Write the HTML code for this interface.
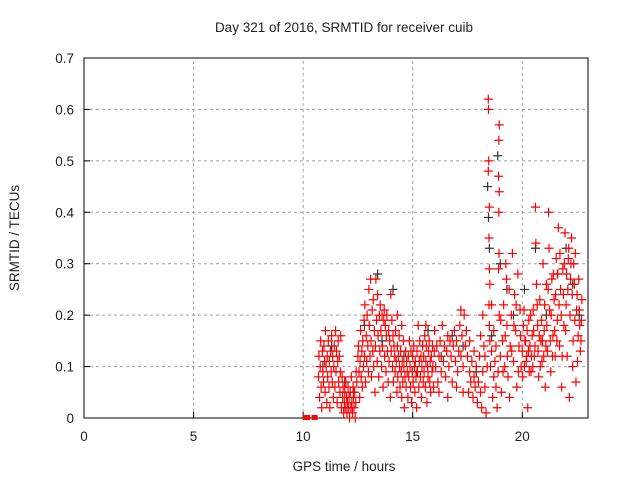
<!DOCTYPE html>
<html><head><meta charset="utf-8"><style>
body{margin:0;background:#fff}
svg text{font-family:"Liberation Sans",sans-serif;font-size:13.5px;fill:#222}
</style></head><body>
<svg id="c" width="640" height="480" xmlns="http://www.w3.org/2000/svg"></svg>
<script>
const xTicks=[0,5,10,15,20];
const yTicks=[0,0.1,0.2,0.3,0.4,0.5,0.6,0.7];
const yTickLabels=["0","0.1","0.2","0.3","0.4","0.5","0.6","0.7"];
const zeroSeries=[[10.1,0],[10.2,0],[10.5,0],[10.55,0]];
const redSeries=[
[10.7,0.08],[10.72,0.12],[10.75,0.04],[10.78,0.1],[10.8,0.15],[10.82,0.06],[10.85,0.02],[10.88,0.13],[10.9,0.09],[10.93,0.07],[10.95,0.14],[10.98,0.11],
[11.0,0.05],[11.02,0.17],[11.05,0.1],[11.08,0.03],[11.1,0.12],[11.12,0.08],[11.15,0.15],[11.18,0.06],[11.2,0.11],[11.22,0.02],[11.25,0.13],[11.28,0.09],[11.3,0.16],[11.33,0.07],[11.35,0.12],[11.38,0.04],[11.4,0.1],[11.42,0.14],[11.45,0.06],[11.48,0.17],[11.5,0.09],
[11.52,0.13],[11.55,0.03],[11.58,0.11],[11.6,0.15],[11.62,0.07],[11.65,0.12],[11.68,0.05],[11.7,0.09],[11.72,0.16],[11.75,0.02],[11.78,0.08],[11.8,0.04],[11.82,0.06],[11.85,0.01],[11.88,0.03],[11.9,0.05],[11.92,0.02],[11.95,0.07],[11.98,0.04],
[12.0,0.01],[12.02,0.03],[12.05,0.06],[12.08,0.02],[12.1,0.04],[12.12,0.0],[12.15,0.05],[12.18,0.02],[12.2,0.08],[12.22,0.03],[12.25,0.01],[12.28,0.06],[12.3,0.04],[12.32,0.02],[12.35,0.05],[12.38,0.0],[12.4,0.03],[12.42,0.09],[12.45,0.07],
[12.5,0.12],[12.52,0.14],[12.55,0.09],[12.58,0.04],[12.6,0.11],[12.62,0.17],[12.65,0.08],[12.68,0.13],[12.7,0.06],[12.72,0.15],[12.75,0.1],[12.78,0.19],[12.8,0.12],[12.82,0.22],[12.85,0.07],[12.88,0.16],[12.9,0.11],[12.92,0.2],[12.95,0.14],[12.98,0.09],
[13.0,0.25],[13.02,0.18],[13.05,0.12],[13.08,0.27],[13.1,0.15],[13.12,0.08],[13.15,0.21],[13.18,0.13],[13.2,0.23],[13.22,0.1],[13.25,0.17],[13.28,0.05],[13.3,0.14],[13.32,0.27],[13.35,0.19],[13.38,0.11],[13.4,0.24],[13.42,0.16],[13.45,0.08],[13.48,0.2],
[13.5,0.13],[13.52,0.22],[13.55,0.17],[13.58,0.1],[13.6,0.2],[13.62,0.14],[13.65,0.06],[13.68,0.19],[13.7,0.21],[13.72,0.12],[13.75,0.18],[13.78,0.09],[13.8,0.16],[13.82,0.2],[13.85,0.13],[13.88,0.07],[13.9,0.17],[13.92,0.11],[13.95,0.15],[13.98,0.04],
[14.0,0.24],[14.02,0.13],[14.05,0.19],[14.08,0.1],[14.1,0.16],[14.12,0.07],[14.15,0.14],[14.18,0.12],[14.2,0.09],[14.22,0.17],[14.25,0.11],[14.28,0.05],[14.3,0.14],[14.32,0.08],[14.35,0.12],[14.38,0.16],[14.4,0.1],[14.42,0.06],[14.45,0.13],[14.48,0.09],
[14.5,0.04],[14.52,0.11],[14.55,0.07],[14.58,0.15],[14.6,0.1],[14.62,0.02],[14.65,0.08],[14.68,0.13],[14.7,0.06],[14.72,0.11],[14.75,0.09],[14.78,0.04],[14.8,0.12],[14.82,0.08],[14.85,0.15],[14.88,0.1],[14.9,0.06],[14.92,0.13],[14.95,0.03],[14.98,0.09],
[15.0,0.12],[15.02,0.07],[15.05,0.14],[15.08,0.1],[15.1,0.05],[15.12,0.11],[15.15,0.08],[15.18,0.02],[15.2,0.13],[15.22,0.09],[15.25,0.18],[15.28,0.06],[15.3,0.11],[15.32,0.15],[15.35,0.08],[15.38,0.12],[15.4,0.04],[15.42,0.1],[15.45,0.14],[15.48,0.07],
[15.5,0.12],[15.52,0.09],[15.55,0.16],[15.58,0.06],[15.6,0.11],[15.62,0.14],[15.65,0.03],[15.68,0.1],[15.7,0.08],[15.72,0.13],[15.75,0.15],[15.78,0.07],[15.8,0.11],[15.82,0.05],[15.85,0.12],[15.88,0.09],[15.9,0.14],[15.92,0.1],[15.95,0.06],[15.98,0.13],
[16.0,0.17],[16.05,0.1],[16.1,0.14],[16.15,0.07],[16.2,0.12],[16.25,0.15],[16.3,0.09],[16.35,0.18],[16.4,0.11],[16.45,0.14],[16.5,0.08],[16.55,0.13],[16.6,0.16],[16.65,0.1],[16.7,0.15],[16.75,0.12],[16.8,0.07],[16.85,0.14],[16.9,0.17],[16.95,0.11],
[17.0,0.15],[17.05,0.09],[17.1,0.13],[17.15,0.18],[17.2,0.12],[17.25,0.16],[17.3,0.1],[17.35,0.2],[17.4,0.14],[17.45,0.17],[17.5,0.12],[17.55,0.05],[17.6,0.09],[17.65,0.07],[17.7,0.11],[17.75,0.04],[17.8,0.08],[17.85,0.06],[17.9,0.1],[17.95,0.03],
[18.0,0.07],[18.05,0.12],[18.1,0.05],[18.15,0.02],[18.2,0.09],[18.25,0.14],[18.3,0.06],[18.35,0.01],[18.4,0.1],[18.45,0.62],[18.46,0.6],[18.47,0.5],[18.45,0.48],[18.5,0.41],[18.48,0.35],[18.5,0.29],[18.52,0.26],[18.48,0.22],[18.5,0.18],[18.52,0.15],
[18.55,0.1],[18.6,0.13],[18.65,0.04],[18.7,0.08],[18.75,0.11],[18.8,0.06],[18.85,0.02],[18.9,0.09],[18.95,0.57],[18.93,0.54],[18.92,0.47],[18.95,0.44],[18.93,0.4],[18.94,0.32],[18.92,0.29],[18.95,0.2],
[19.0,0.12],[19.05,0.05],[19.1,0.15],[19.15,0.22],[19.2,0.1],[19.25,0.3],[19.28,0.27],[19.3,0.18],[19.35,0.08],[19.4,0.25],[19.45,0.14],[19.5,0.2],[19.55,0.32],[19.6,0.11],[19.65,0.24],[19.7,0.17],[19.75,0.06],[19.8,0.28],[19.85,0.14],[19.9,0.21],[19.95,0.1],
[20.0,0.13],[20.05,0.18],[20.1,0.1],[20.15,0.15],[20.2,0.12],[20.25,0.02],[20.3,0.19],[20.35,0.14],[20.4,0.09],[20.45,0.16],[20.5,0.21],[20.55,0.12],[20.6,0.41],[20.62,0.34],[20.65,0.26],[20.7,0.18],[20.75,0.08],[20.8,0.23],[20.85,0.15],[20.9,0.11],[20.95,0.3],
[21.0,0.17],[21.05,0.06],[21.1,0.26],[21.15,0.13],[21.2,0.4],[21.22,0.33],[21.25,0.21],[21.3,0.09],[21.35,0.27],[21.4,0.16],[21.45,0.23],[21.5,0.12],[21.55,0.31],[21.6,0.19],[21.65,0.37],[21.7,0.14],[21.75,0.25],[21.8,0.06],[21.85,0.29],[21.9,0.18],[21.95,0.36],
[22.0,0.22],[22.05,0.12],[22.1,0.31],[22.15,0.04],[22.2,0.27],[22.25,0.35],[22.3,0.1],[22.35,0.3],[22.4,0.19],[22.45,0.07],[22.5,0.24],[22.55,0.16],[22.6,0.21],[22.65,0.13],[22.7,0.19],
[18.1,0.16],[18.2,0.2],[18.3,0.12],[18.6,0.22],[18.7,0.17],[18.8,0.14],[19.02,0.19],[19.12,0.09],[19.22,0.16],[19.32,0.12],[19.42,0.04],[19.52,0.13],[19.62,0.18],[19.72,0.22],[19.82,0.09],[19.92,0.16],
[20.02,0.08],[20.08,0.21],[20.12,0.15],[20.18,0.11],[20.22,0.17],[20.28,0.13],[20.32,0.09],[20.38,0.2],[20.42,0.12],[20.48,0.1],[20.52,0.17],[20.58,0.14],[20.68,0.22],[20.72,0.13],[20.78,0.16],[20.82,0.1],[20.88,0.19],[20.92,0.15],[20.98,0.12],
[21.02,0.22],[21.08,0.14],[21.12,0.18],[21.18,0.25],[21.28,0.15],[21.32,0.2],[21.38,0.12],[21.42,0.28],[21.48,0.17],[21.52,0.24],[21.58,0.15],[21.62,0.28],[21.68,0.22],[21.72,0.32],[21.78,0.2],[21.82,0.12],[21.88,0.24],[21.92,0.3],[21.98,0.17],
[22.02,0.28],[22.08,0.25],[22.12,0.33],[22.18,0.2],[22.22,0.3],[22.28,0.24],[22.32,0.15],[22.38,0.26],[22.42,0.32],[22.48,0.21],[22.52,0.11],[22.58,0.27],[22.62,0.18],[22.68,0.15],[22.72,0.23],
[14.3,0.2],[14.5,0.18],[15.6,0.18],[16.2,0.05],[16.6,0.04],[17.0,0.06],[17.2,0.21],[17.3,0.05],[17.6,0.15],[17.8,0.13]
];
const blackSeries=[
[10.9,0.1],[11.3,0.14],[11.9,0.07],[12.3,0.05],[12.8,0.18],[13.4,0.28],[13.6,0.15],[14.1,0.25],[14.6,0.12],[15.2,0.09],[15.7,0.17],[16.3,0.12],[16.8,0.16],[17.3,0.14],[17.9,0.09],
[18.42,0.45],[18.46,0.39],[18.5,0.33],[18.6,0.16],[18.88,0.51],[19.0,0.3],[19.3,0.25],[19.6,0.2],[20.1,0.25],[20.6,0.33],[21.1,0.2],[21.6,0.28],[22.0,0.33],[22.3,0.26],[22.6,0.2]
];
const X0=84,X1=588,Y0=418,Y1=58,XMAX=23,YMAX=0.7;
const sx=t=>X0+(t/XMAX)*(X1-X0);
const sy=v=>Y0-(v/YMAX)*(Y0-Y1);
const svg=document.getElementById('c');
const NS='http://www.w3.org/2000/svg';
function mk(tag,at){const e=document.createElementNS(NS,tag);for(const k in at)e.setAttribute(k,at[k]);svg.appendChild(e);return e;}
xTicks.forEach(t=>{if(t>0){const l=mk('line',{x1:sx(t),x2:sx(t),y1:Y0,y2:Y1,stroke:'#a0a0a0','stroke-dasharray':'3,3'});

}});
yTicks.forEach(v=>{if(v>0&&v<YMAX){const l=mk('line',{x1:X0,x2:X1,y1:sy(v),y2:sy(v),stroke:'#a0a0a0','stroke-dasharray':'3,3'});

}});
const box=mk('rect',{x:X0,y:Y1,width:X1-X0,height:Y0-Y1,fill:'none',stroke:'#000'});


xTicks.forEach(t=>{const l=mk('line',{x1:sx(t),x2:sx(t),y1:Y0,y2:Y0-6,stroke:'#000'});


const tx=mk('text',{x:sx(t),y:Y0+23,'text-anchor':'middle'});tx.textContent=t;

});
yTicks.forEach((v,i)=>{const l=mk('line',{x1:X0,x2:X0+6,y1:sy(v),y2:sy(v),stroke:'#000'});


const tx=mk('text',{x:X0-10,y:sy(v)+5,'text-anchor':'end'});tx.textContent=yTickLabels[i];

});
function plus(t,v,col,name){const x=sx(t),y=sy(v);
const p=mk('path',{d:`M${x-4.5} ${y}H${x+4.5}M${x} ${y-4.5}V${y+4.5}`,stroke:col,'stroke-width':1.2,fill:'none'});

}
blackSeries.forEach(d=>plus(d[0],d[1],'#333','black-point'));
redSeries.forEach(d=>plus(d[0],d[1],'#ff0000','red-point'));
zeroSeries.forEach(d=>{const r=mk('rect',{x:sx(d[0])-2.5,y:sy(d[1])-3,width:5,height:5,fill:'#ff0000'});

});
const ti=mk('text',{x:344,y:32,'text-anchor':'middle'});ti.textContent='Day 321 of 2016, SRMTID for receiver cuib';


const xl=mk('text',{x:344,y:471,'text-anchor':'middle'});xl.textContent='GPS time / hours';


const yl=mk('text',{x:0,y:0,'text-anchor':'middle',transform:'translate(19,238) rotate(-90)'});yl.textContent='SRMTID / TECUs';


</script>
</body></html>
